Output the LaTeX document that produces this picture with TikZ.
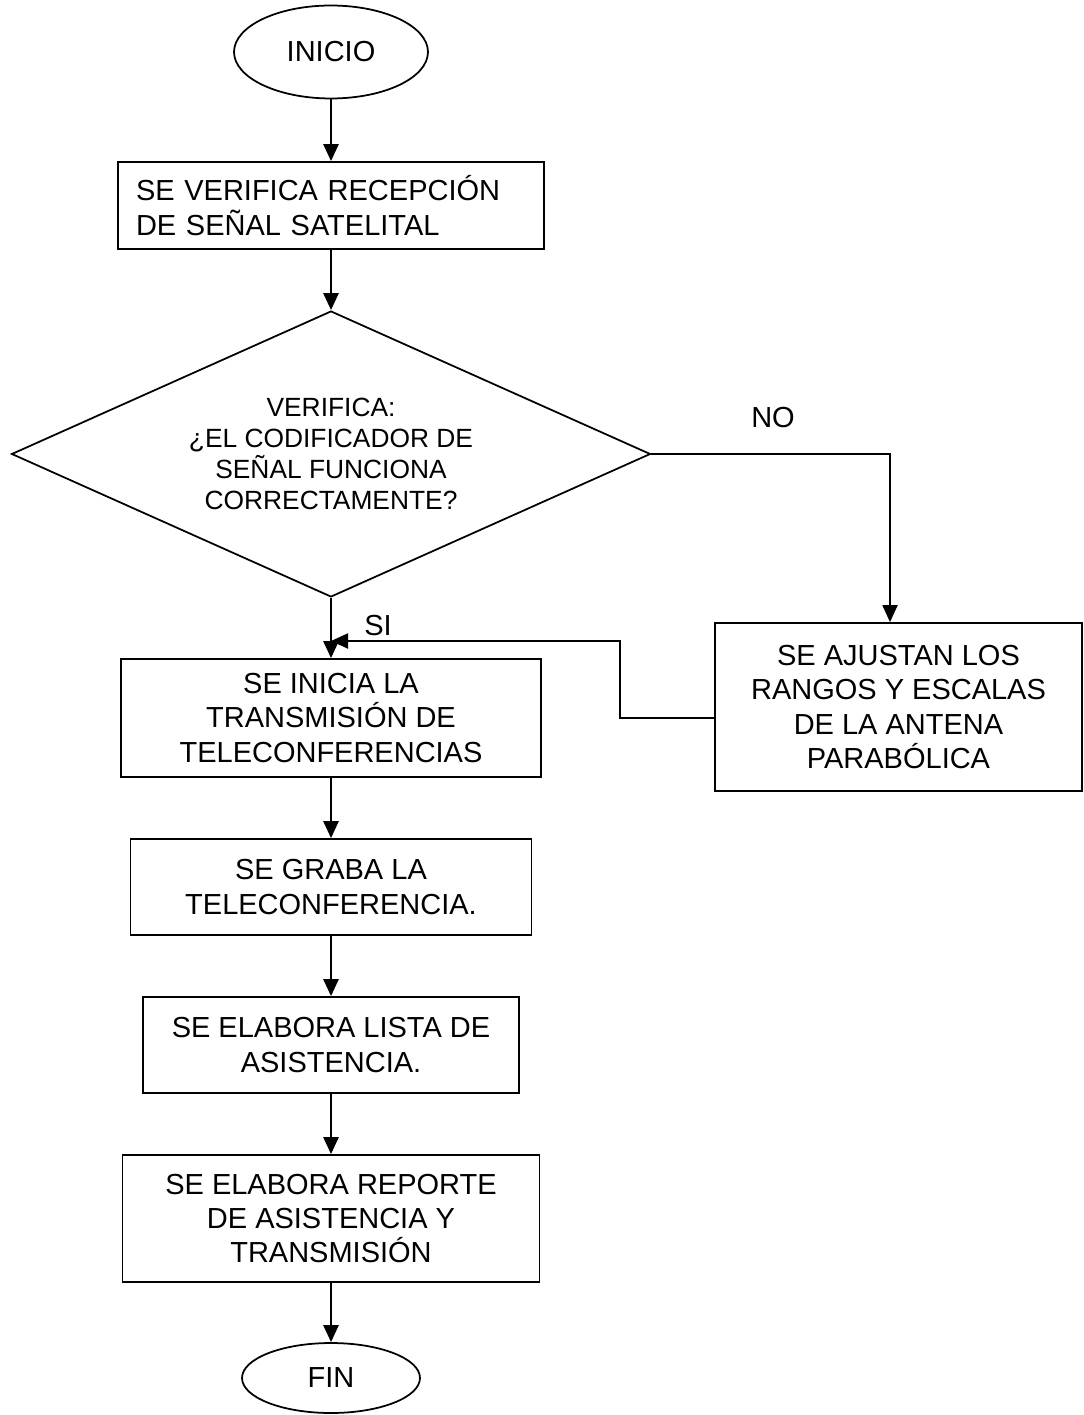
\documentclass[tikz,border=0pt]{standalone}
\usepackage{fontspec}
\setmainfont{Liberation Sans}
\usetikzlibrary{shapes.geometric,arrows.meta}

\begin{document}
\begin{tikzpicture}[x=0.02cm, y=-0.02cm, >={Triangle[length=0.34cm,width=0.3cm]},
                    block node/.style={rectangle,draw,line width=1pt,inner sep=0pt,align=center,font=\fontsize{16.5pt}{19.5pt}\selectfont},
                    term node/.style={ellipse,draw,line width=1pt,inner sep=0pt,font=\fontsize{16.5pt}{19.5pt}\selectfont},
                    decision node/.style={diamond,draw,line width=1pt,inner sep=0pt,shape aspect=2.2,align=center,font=\fontsize{15pt}{17.6pt}\selectfont},
                    tag node/.style={font=\fontsize{16.5pt}{19.5pt}\selectfont}]

  \useasboundingbox (0,0) rectangle (1084,1415);

  \node[term node, minimum width=3.88cm, minimum height=1.86cm] (1) at (331, 52) {INICIO};
  \node[block node, minimum width=8.52cm, minimum height=1.74cm, text width=7.8cm, align=left] (2) at (331, 205.5) {SE VERIFICA RECEPCIÓN\\ DE SEÑAL SATELITAL};
  \node[decision node, minimum width=12.78cm, minimum height=5.72cm] (3) at (331, 454) {VERIFICA:\\ ¿EL CODIFICADOR DE\\ SEÑAL FUNCIONA\\ CORRECTAMENTE?};
  \node[block node, minimum width=7.34cm, minimum height=3.36cm] (4) at (898.5, 707) {SE AJUSTAN LOS\\ RANGOS Y ESCALAS\\ DE LA ANTENA\\ PARABÓLICA};
  \node[block node, minimum width=8.4cm, minimum height=2.36cm] (5) at (331, 718) {SE INICIA LA\\ TRANSMISIÓN DE\\ TELECONFERENCIAS};
  \node[block node, minimum width=8.02cm, minimum height=1.92cm] (6) at (331, 887) {SE GRABA LA\\ TELECONFERENCIA.};
  \node[block node, minimum width=7.52cm, minimum height=1.92cm] (7) at (331, 1045) {SE ELABORA LISTA DE\\ ASISTENCIA.};
  \node[block node, minimum width=8.34cm, minimum height=2.54cm] (8) at (331, 1218.5) {SE ELABORA REPORTE\\ DE ASISTENCIA Y\\ TRANSMISIÓN};
  \node[term node, minimum width=3.56cm, minimum height=1.4cm] (9) at (331, 1378) {FIN};

  \node[tag node] (no label) at (773, 418) {NO};
  \node[tag node] (si label) at (378, 626) {SI};

  \coordinate (no) at (890, 454);
  \coordinate (back) at (620, 641);

  \path[->, line width=1.5pt]
  (1) edge (2)
  (2) edge (3)
  (3) edge (5)
  (5) edge (6)
  (6) edge (7)
  (7) edge (8)
  (8) edge (9);

  \draw[->, line width=1.1pt] (3.east) -- (no) -- (no |- 4.north);
  \draw[->, line width=1.1pt] ([yshift=-0.22cm]4.west) -| (back) -- (back -| 3.south);

\end{tikzpicture}
\end{document}
